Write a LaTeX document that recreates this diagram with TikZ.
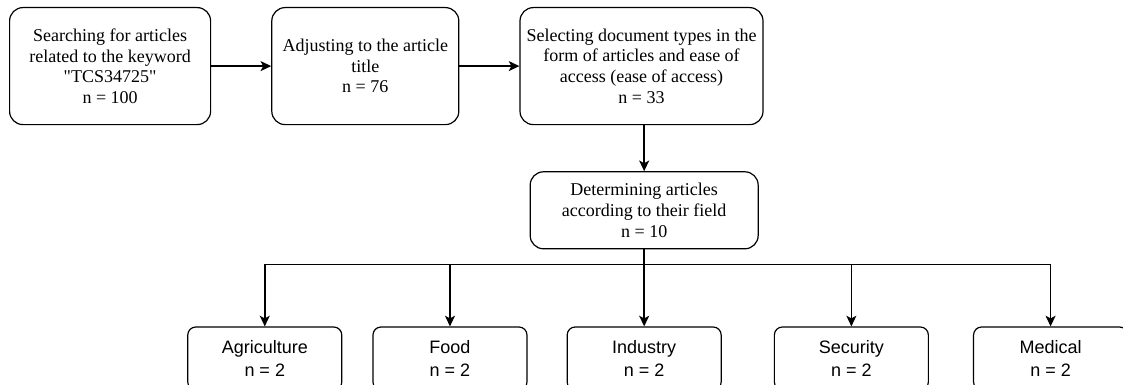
\documentclass[tikz,border=0pt]{standalone}
\usepackage{fontspec}
\setmainfont{Liberation Serif}[Ligatures=TeXOff]
\setsansfont{Liberation Sans}
\usetikzlibrary{arrows.meta,positioning}

\begin{document}
\begin{tikzpicture}[
  node distance=45pt,
  stage/.style={draw,rounded corners=10pt,minimum height=87.75pt,align=center,
    font=\fontsize{13.5pt}{15.5pt}\selectfont,inner sep=2pt,line width=0.9pt},
  areabox/.style={draw,rounded corners=6pt,minimum width=115.5pt,minimum height=47.25pt,
    align=center,font=\sffamily\fontsize{13.5pt}{17pt}\selectfont,line width=0.9pt},
  arrow/.style={-{Stealth[length=8pt,width=7.5pt,inset=2pt]},line width=1.1pt}
]
\useasboundingbox (0,0) rectangle (842.25pt,-288.75pt);
\node[stage,minimum width=150.75pt,anchor=north west] (search) at (6.75pt,-5.25pt)
  {Searching for articles\\related to the keyword\\"TCS34725"\\n = 100};
\node[stage,minimum width=140.25pt,right=of search] (title)
  {Adjusting to the article\\title\\n = 76};
\node[stage,minimum width=182.25pt,right=of title] (doctype)
  {Selecting document types in the\\form of articles and ease of\\access (ease of access)\\n = 33};
\node[stage,minimum width=171pt,minimum height=57.75pt,below=34.5pt of doctype,xshift=2pt] (sort)
  {Determining articles\\according to their field\\n = 10};
\node[areabox,below=57.75pt of sort] (industry) {Industry\\n = 2};
\node[areabox,left=29.25pt of industry] (food) {Food\\n = 2};
\node[areabox,left=22.5pt of food] (agri) {Agriculture\\n = 2};
\node[areabox,right=39pt of industry] (security) {Security\\n = 2};
\node[areabox,right=33pt of security] (medical) {Medical\\n = 2};
\draw[arrow] (search) -- (title);
\draw[arrow] (title) -- (doctype);
\draw[arrow] (doctype.south -| sort) -- (sort);
% split to the five fields
\draw[line width=1.1pt] (sort.south) -- ++(0,-11.25pt) coordinate (bus);
\draw[line width=1.1pt] (bus -| agri) -- (bus -| medical);
\foreach \f in {agri,food,industry,security,medical}
  \draw[arrow] (bus -| \f) -- (\f);
\end{tikzpicture}
\end{document}
